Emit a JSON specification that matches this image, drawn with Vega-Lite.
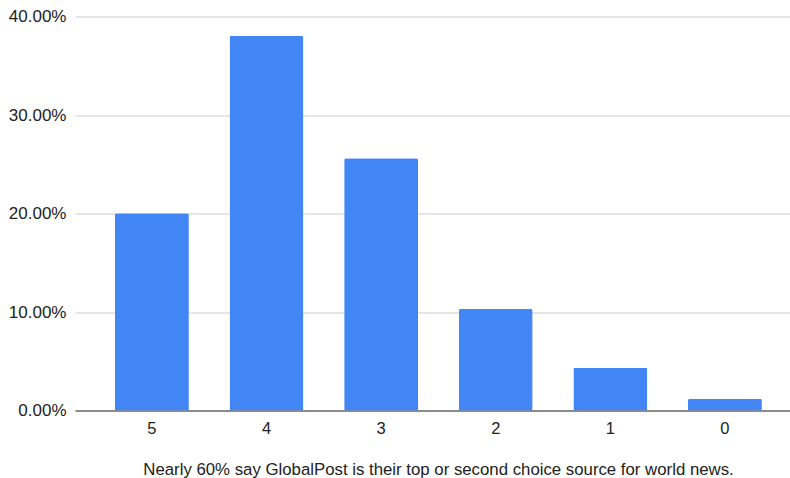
{
  "$schema": "https://vega.github.io/schema/vega-lite/v6.json",
  "autosize": {"type": "none"},
  "width": 715,
  "height": 394,
  "padding": {"left": 75, "top": 16.5, "right": 0, "bottom": 67.5},
  "background": "white",
  "data": {
    "values": [
      {"score": "5", "share": 0.2003},
      {"score": "4", "share": 0.3804},
      {"score": "3", "share": 0.2562},
      {"score": "2", "share": 0.1031},
      {"score": "1", "share": 0.0435},
      {"score": "0", "share": 0.012}
    ]
  },
  "mark": {"type": "bar", "color": "#4285F4", "cornerRadiusTopLeft": 2, "cornerRadiusTopRight": 2},
  "encoding": {
    "x": {
      "field": "score",
      "type": "nominal",
      "sort": ["5", "4", "3", "2", "1", "0"],
      "scale": {"paddingInner": 0.355, "paddingOuter": 0.297, "align": 0.587},
      "axis": {
        "title": "Nearly 60% say GlobalPost is their top or second choice source for world news.",
        "labelAngle": 0,
        "labelFont": "Liberation Sans",
        "labelFontSize": 16.5,
        "labelColor": "#222",
        "labelPadding": 10,
        "ticks": false,
        "domainColor": "#333",
        "domainWidth": 1,
        "titleFont": "Liberation Sans",
        "titleFontSize": 16.8,
        "titleFontWeight": "normal",
        "titleColor": "#222",
        "titlePadding": 24,
        "titleX": 363
      }
    },
    "y": {
      "field": "share",
      "type": "quantitative",
      "scale": {"domain": [0, 0.4], "nice": false},
      "axis": {
        "title": null,
        "format": ".2%",
        "values": [0, 0.1, 0.2, 0.3, 0.4],
        "labelFont": "Liberation Sans",
        "labelFontSize": 17,
        "labelColor": "#222",
        "labelPadding": 9,
        "ticks": false,
        "domain": false,
        "gridColor": "#cccccc",
        "gridWidth": 1
      }
    }
  },
  "config": {"view": {"stroke": null}}
}
